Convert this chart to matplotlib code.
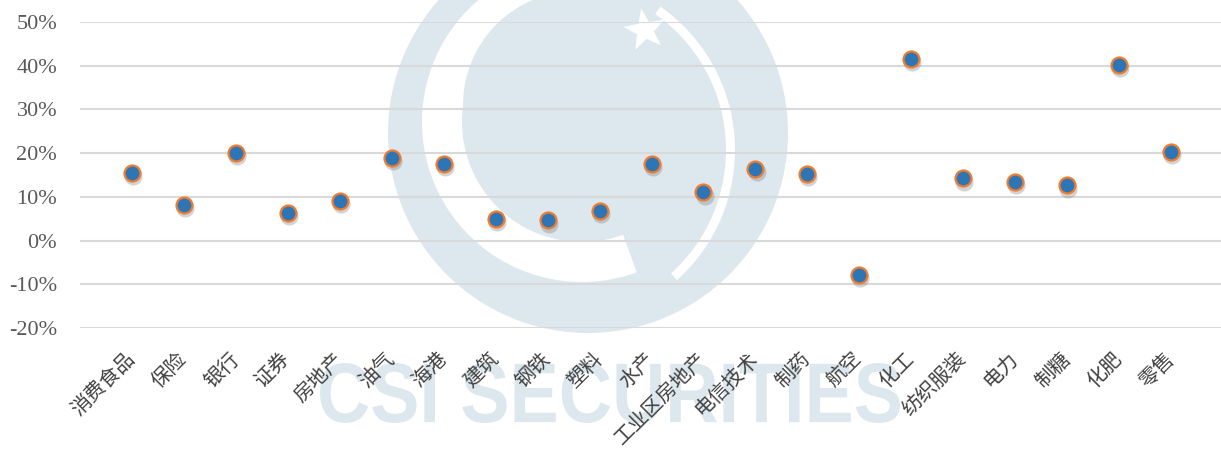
import matplotlib.pyplot as plt
import matplotlib.transforms as mtransforms
from matplotlib.patches import Ellipse, Wedge, Polygon, PathPatch
from matplotlib.textpath import TextPath
from matplotlib.font_manager import FontProperties
from matplotlib.ticker import FuncFormatter
import numpy as np

plt.rcParams['font.family'] = ['Liberation Serif', 'Noto Sans CJK SC']

# data
sectors = ["消费食品", "保险", "银行", "证券", "房地产", "油气", "海港", "建筑", "钢铁", "塑料",
           "水产", "工业区房地产", "电信技术", "制药", "航空", "化工", "纺织服装", "电力", "制糖",
           "化肥", "零售"]
values = [15.5, 8.2, 20.1, 6.4, 9.1, 19.0, 17.6, 5.0, 4.6, 6.8,
          17.6, 11.0, 16.4, 15.3, -7.8, 41.6, 14.2, 13.5, 12.6, 40.2, 20.3]
yticks = [-20, -10, 0, 10, 20, 30, 40, 50]

W, H = 1221, 459
fig = plt.figure(figsize=(W / 100, H / 100), dpi=100)

# watermark (logo + company name) in pixel units of the figure
wm = "#dde8ee"
px = mtransforms.Affine2D().scale(1, -1).translate(0, H)  # image coords -> display


def disc(cx, cy, r, color):
    fig.add_artist(Ellipse((cx, cy), 2 * r, 2 * r, transform=px, facecolor=color,
                           edgecolor="none", zorder=-2))


disc(588, 133, 200, wm)
# white crescent band on left / bottom
fig.add_artist(Wedge((582, 122), 160, 70, 285, width=40, transform=px,
                     facecolor="white", edgecolor="none", zorder=-2))
# white swoosh coming down from the star
fig.add_artist(Wedge((560, 150), 175, 305, 48, width=9, transform=px,
                     facecolor="white", edgecolor="none", zorder=-2))
disc(577, 105, 114, wm)
# star
ang = np.deg2rad(np.arange(5) * 72 + 100)
pts = []
for a in ang:
    pts.append((645 + 22 * np.cos(a), 30 - 22 * np.sin(a)))
    b = a + np.deg2rad(36)
    pts.append((645 + 9 * np.cos(b), 30 - 9 * np.sin(b)))
fig.add_artist(Polygon(pts, closed=True, transform=px, facecolor="white",
                       edgecolor="none", zorder=-2))

# company name, squeezed into the box it fills in the reference
tp = TextPath((0, 0), "CSI SECURITIES", size=10,
              prop=FontProperties(family="Liberation Sans", weight="bold"))
bb = tp.get_extents()
x0, x1, ytop, ybot = 320, 900, 363, 423
sx = (x1 - x0) / bb.width
sy = (ybot - ytop) / bb.height
name_tf = (mtransforms.Affine2D().translate(-bb.x0, -bb.y0).scale(sx, sy)
           .translate(x0, H - ybot))
fig.add_artist(PathPatch(tp, transform=name_tf, facecolor=wm, edgecolor="none", zorder=-1))

ax = fig.add_axes([80 / W, 1 - 328 / H, (W + 2 - 80) / W, (328 - 22) / H])
ax.patch.set_alpha(0)
ax.set_zorder(1)

x = np.arange(1, len(sectors) + 1)
y = np.array(values) / 100

# soft shadow under markers
shadow = mtransforms.offset_copy(ax.transData, fig=fig, x=0.8, y=-2.5, units="points")
ax.plot(x, y, linestyle="none", marker="o", markersize=13, color="#707070",
        alpha=0.3, markeredgewidth=0, transform=shadow, zorder=2)
ax.plot(x, y, linestyle="none", marker="o", markersize=11.5, markerfacecolor="#2e75b6",
        markeredgecolor="#ed7d31", markeredgewidth=1.6, zorder=3)

ax.set_xlim(0, len(sectors) + 1)
ax.set_ylim(-0.2, 0.5)
ax.set_yticks([v / 100 for v in yticks])
ax.yaxis.set_major_formatter(FuncFormatter(lambda v, p: f"{v * 100:.0f}%"))
ax.grid(axis="y", color="#d9d9d9", linewidth=1.5)
ax.set_axisbelow(True)
for s in ax.spines.values():
    s.set_visible(False)
ax.tick_params(axis="y", length=0, pad=16.5, labelsize=16, labelcolor="#595959")
ax.tick_params(axis="x", length=0, pad=20)

ax.set_xticks(x)
ax.set_xticklabels(sectors, rotation=45, ha="right", va="center", rotation_mode="anchor",
                   fontsize=14.5, color="#404040", family=["Noto Sans CJK SC"])

fig.savefig("out.png", dpi=100)
